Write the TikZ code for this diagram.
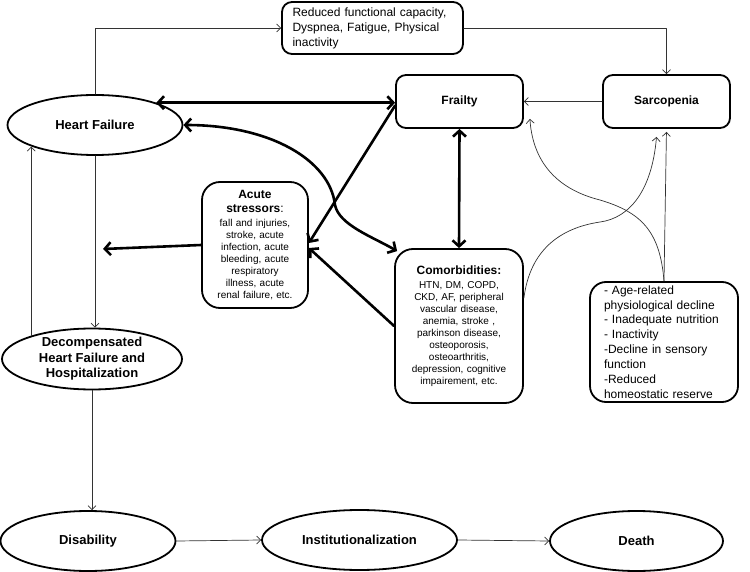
\documentclass[tikz,border=0pt]{standalone}
\usepackage{fontspec}
\setmainfont{Liberation Sans}
\usetikzlibrary{arrows.meta,shapes.geometric}
\begin{document}
\begin{tikzpicture}[line cap=round,line join=round,x=1pt,y=-1pt,
  oval/.style={draw,ellipse,line width=1.8pt,inner sep=0pt,minimum height=60pt,align=center,font=\bfseries\fontsize{13}{15.5}\selectfont},
  rbox/.style={draw,line width=1.8pt,rounded corners=10pt,inner sep=0pt},
  flow/.style={line width=0.7pt,draw=black!80,>={Straight Barb[length=4pt,width=8pt]},->},
  heavy/.style={line width=2.6pt,>={Straight Barb[length=6pt,width=13pt]}}]
                \useasboundingbox (0,0) rectangle (750,572);
                % nodes
                \node[oval,minimum width=175pt] (hf) at (95,125) {Heart Failure};
                \node[rbox,minimum width=181pt,minimum height=52pt,text width=160pt,align=left,font=\fontsize{12}{15}\selectfont] (reduced) at (372.5,28) {Reduced functional capacity,\\ Dyspnea, Fatigue, Physical\\ inactivity};
                \node[rbox,minimum width=127pt,minimum height=53pt,font=\bfseries\fontsize{12}{14}\selectfont] (frailty) at (459.5,101.5) {Frailty};
                \node[rbox,minimum width=127pt,minimum height=53pt,font=\bfseries\fontsize{12}{14}\selectfont] (sarco) at (666.5,101.5) {Sarcopenia};
                \node[rbox,rounded corners=18pt,minimum width=106pt,minimum height=126pt,text width=104pt,align=center,font=\fontsize{10}{12}\selectfont] (acute) at (255,245) {{\bfseries\fontsize{12}{12}\selectfont Acute}\\[2pt]{\bfseries\fontsize{12}{12}\selectfont stressors}{\fontsize{12}{12}\selectfont :}\\[2pt]fall and injuries,\\ stroke, acute\\ infection, acute\\ bleeding, acute\\ respiratory\\ illness, acute\\ renal failure, etc.};
                \node[rbox,rounded corners=18pt,minimum width=128pt,minimum height=154pt,text width=124pt,align=center,font=\fontsize{10}{12}\selectfont] (comorb) at (459,326) {{\bfseries\fontsize{12}{12}\selectfont Comorbidities:}\\[1.5pt]HTN, DM, COPD,\\ CKD, AF, peripheral\\ vascular disease,\\ anemia, stroke ,\\ parkinson disease,\\ osteoporosis,\\ osteoarthritis,\\ depression, cognitive\\ impairement, etc.};
                \node[rbox,rounded corners=16pt,minimum width=148pt,minimum height=120pt,text width=120pt,align=left,font=\fontsize{12}{14.9}\selectfont] (age) at (664,342) {- Age-related\\ physiological decline\\ - Inadequate nutrition\\ - Inactivity\\ -Decline in sensory\\ function\\ -Reduced\\ homeostatic reserve};
                \node[oval,minimum width=180pt] (decomp) at (92,359) {Decompensated\\ Heart Failure and\\ Hospitalization};
                \node[oval,minimum width=175pt] (disab) at (88,541) {Disability};
                \node[oval,minimum width=195pt] (inst) at (359.5,540) {Institutionalization};
                \node[oval,minimum width=173pt] (death) at (636.5,541) {Death};
                \coordinate (hfline) at (103,249);
                % thin connectors
                \draw[flow] (hf.north) |- (reduced.west);
                \draw[flow] (reduced.east) -| (sarco.north);
                \draw[flow] (sarco.west) -- (frailty.east);
                \draw[flow] (age.north) .. controls (660,230) and (640,212) .. (600,200) .. controls (560,190) and (533,165) .. ([shift={(6pt,10pt)}]frailty.south east);
                \draw[flow] ([yshift=28pt]comorb.east) .. controls (530,250) and (560,228) .. (600,222) .. controls (630,218) and (652,190) .. ([shift={(-10pt,-8pt)}]sarco.south);
                \draw[flow,shorten >=3pt] (age.north) -- (sarco.south);
                \draw[flow] (hf.south) -- (hf.south |- decomp.north);
                \draw[flow] (decomp.159) -- (decomp.159 |- hf.199);
                \draw[flow] (decomp.south) -- (decomp.south |- disab.north);
                \draw[flow] (disab.east) -- (inst.west);
                \draw[flow] (inst.east) -- (death.west);
                % thick connectors
                \draw[heavy,<->] (hf.20) -- (hf.20 -| frailty.west);
                \draw[heavy,<->] (frailty.south) -- (comorb.north);
                \draw[heavy,->] ([yshift=-4pt]frailty.west) -- ([yshift=2pt]acute.east);
                \draw[heavy,->] (comorb.west) -- ([yshift=-3pt]acute.east);
                \draw[heavy,<->] (hf.east) .. controls (270,125) and (330,160) .. (335,205) .. controls (339,225) and (373,237) .. ([shift={(3pt,-3pt)}]comorb.north west);
                \draw[heavy,->] (acute.west) -- (hfline);
            \end{tikzpicture}
\end{document}
